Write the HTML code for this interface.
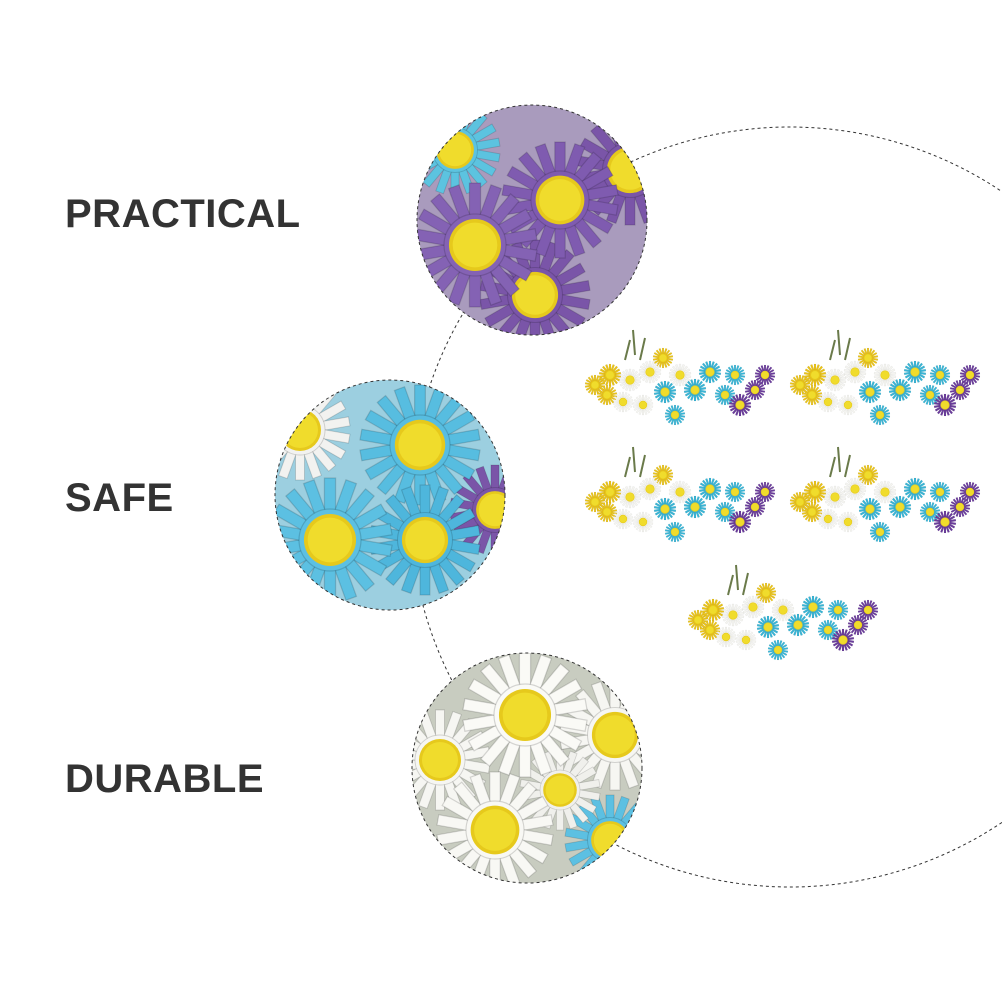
<!DOCTYPE html>
<html><head><meta charset="utf-8"><style>
html,body{margin:0;padding:0;background:#fff;width:1002px;height:1002px;overflow:hidden}
.t{position:absolute;left:65px;font-family:"Liberation Sans",sans-serif;font-weight:bold;font-size:40px;color:#333;letter-spacing:0.5px}
</style></head><body>
<div class="t" style="top:192px">PRACTICAL</div>
<div class="t" style="top:476px">SAFE</div>
<div class="t" style="top:757px">DURABLE</div>
<svg width="1002" height="1002" style="position:absolute;left:0;top:0">
<defs>
<g id="dz">
<g fill="currentColor" stroke="rgba(0,0,0,0.15)" stroke-width="0.02">
<rect x="-0.09" y="-1" width="0.18" height="0.62" transform="rotate(0)"/>
<rect x="-0.09" y="-1" width="0.18" height="0.62" transform="rotate(20)"/>
<rect x="-0.09" y="-1" width="0.18" height="0.62" transform="rotate(40)"/>
<rect x="-0.09" y="-1" width="0.18" height="0.62" transform="rotate(60)"/>
<rect x="-0.09" y="-1" width="0.18" height="0.62" transform="rotate(80)"/>
<rect x="-0.09" y="-1" width="0.18" height="0.62" transform="rotate(100)"/>
<rect x="-0.09" y="-1" width="0.18" height="0.62" transform="rotate(120)"/>
<rect x="-0.09" y="-1" width="0.18" height="0.62" transform="rotate(140)"/>
<rect x="-0.09" y="-1" width="0.18" height="0.62" transform="rotate(160)"/>
<rect x="-0.09" y="-1" width="0.18" height="0.62" transform="rotate(180)"/>
<rect x="-0.09" y="-1" width="0.18" height="0.62" transform="rotate(200)"/>
<rect x="-0.09" y="-1" width="0.18" height="0.62" transform="rotate(220)"/>
<rect x="-0.09" y="-1" width="0.18" height="0.62" transform="rotate(240)"/>
<rect x="-0.09" y="-1" width="0.18" height="0.62" transform="rotate(260)"/>
<rect x="-0.09" y="-1" width="0.18" height="0.62" transform="rotate(280)"/>
<rect x="-0.09" y="-1" width="0.18" height="0.62" transform="rotate(300)"/>
<rect x="-0.09" y="-1" width="0.18" height="0.62" transform="rotate(320)"/>
<rect x="-0.09" y="-1" width="0.18" height="0.62" transform="rotate(340)"/>
<circle r="0.5"/>
</g>
<circle r="0.42" fill="#e6c91c"/>
<circle r="0.36" fill="#f0dc2c"/>
</g>
<g id="bunch">
<path d="M50 25 L48 0 M40 30 L45 10 M55 30 L60 8" stroke="#6a7a4a" stroke-width="2" fill="none"/>
<use href="#dz" transform="translate(10,55) scale(10)" style="color:#e8c21a"/>
<use href="#dz" transform="translate(25,45) scale(11)" style="color:#e8c21a"/>
<use href="#dz" transform="translate(22,65) scale(10)" style="color:#e8c21a"/>
<use href="#dz" transform="translate(78,28) scale(10)" style="color:#e8c21a"/>
<use href="#dz" transform="translate(45,50) scale(11)" style="color:#f4f4f0"/>
<use href="#dz" transform="translate(38,72) scale(10)" style="color:#f4f4f0"/>
<use href="#dz" transform="translate(65,42) scale(11)" style="color:#f4f4f0"/>
<use href="#dz" transform="translate(58,75) scale(10)" style="color:#f4f4f0"/>
<use href="#dz" transform="translate(95,45) scale(11)" style="color:#f4f4f0"/>
<use href="#dz" transform="translate(80,62) scale(11)" style="color:#3ab4d4"/>
<use href="#dz" transform="translate(110,60) scale(11)" style="color:#3ab4d4"/>
<use href="#dz" transform="translate(90,85) scale(10)" style="color:#3ab4d4"/>
<use href="#dz" transform="translate(125,42) scale(11)" style="color:#3ab4d4"/>
<use href="#dz" transform="translate(140,65) scale(10)" style="color:#3ab4d4"/>
<use href="#dz" transform="translate(150,45) scale(10)" style="color:#3ab4d4"/>
<use href="#dz" transform="translate(155,75) scale(11)" style="color:#6a3d9a"/>
<use href="#dz" transform="translate(170,60) scale(10)" style="color:#6a3d9a"/>
<use href="#dz" transform="translate(180,45) scale(10)" style="color:#6a3d9a"/>
</g>
<clipPath id="c1"><circle cx="532" cy="220" r="115"/></clipPath>
<clipPath id="c2"><circle cx="390" cy="495" r="115"/></clipPath>
<clipPath id="c3"><circle cx="527" cy="768" r="115"/></clipPath>
</defs>
<circle cx="790" cy="507" r="380" fill="none" stroke="#333" stroke-width="1" stroke-dasharray="3,3"/>
<!-- circle 1 -->
<g clip-path="url(#c1)">
<rect x="410" y="100" width="250" height="240" fill="#a99bbd"/>
<use href="#dz" transform="translate(455,150) scale(45)" style="color:#5cc3e0"/>
<use href="#dz" transform="translate(630,170) scale(55)" style="color:#7a55a8"/>
<use href="#dz" transform="translate(535,295) scale(55)" style="color:#7a55a8"/>
<use href="#dz" transform="translate(560,200) scale(58)" style="color:#7f5bb0"/>
<use href="#dz" transform="translate(475,245) scale(62)" style="color:#8462b4"/>
</g>
<circle cx="532" cy="220" r="115" fill="none" stroke="#333" stroke-dasharray="3,3"/>
<!-- circle 2 -->
<g clip-path="url(#c2)">
<rect x="270" y="375" width="240" height="240" fill="#9ccfe0"/>
<use href="#dz" transform="translate(300,430) scale(50)" style="color:#f2f2f0"/>
<use href="#dz" transform="translate(495,510) scale(45)" style="color:#7a55a8"/>
<use href="#dz" transform="translate(420,445) scale(60)" style="color:#57bde0"/>
<use href="#dz" transform="translate(425,540) scale(55)" style="color:#4eb6dc"/>
<use href="#dz" transform="translate(330,540) scale(62)" style="color:#5cc0e2"/>
</g>
<circle cx="390" cy="495" r="115" fill="none" stroke="#333" stroke-dasharray="3,3"/>
<!-- circle 3 -->
<g clip-path="url(#c3)">
<rect x="410" y="650" width="240" height="240" fill="#c8ccc0"/>
<use href="#dz" transform="translate(440,760) scale(50)" style="color:#f6f6f2"/>
<use href="#dz" transform="translate(615,735) scale(55)" style="color:#f6f6f2"/>
<use href="#dz" transform="translate(610,840) scale(45)" style="color:#5cc0e2"/>
<use href="#dz" transform="translate(560,790) scale(40)" style="color:#f0f0ec"/>
<use href="#dz" transform="translate(525,715) scale(62)" style="color:#fafaf6"/>
<use href="#dz" transform="translate(495,830) scale(58)" style="color:#f8f8f4"/>
</g>
<circle cx="527" cy="768" r="115" fill="none" stroke="#333" stroke-dasharray="3,3"/>
<!-- bunches -->
<use href="#bunch" transform="translate(585,330)"/>
<use href="#bunch" transform="translate(790,330)"/>
<use href="#bunch" transform="translate(585,447)"/>
<use href="#bunch" transform="translate(790,447)"/>
<use href="#bunch" transform="translate(688,565)"/>
</svg>
</body></html>
